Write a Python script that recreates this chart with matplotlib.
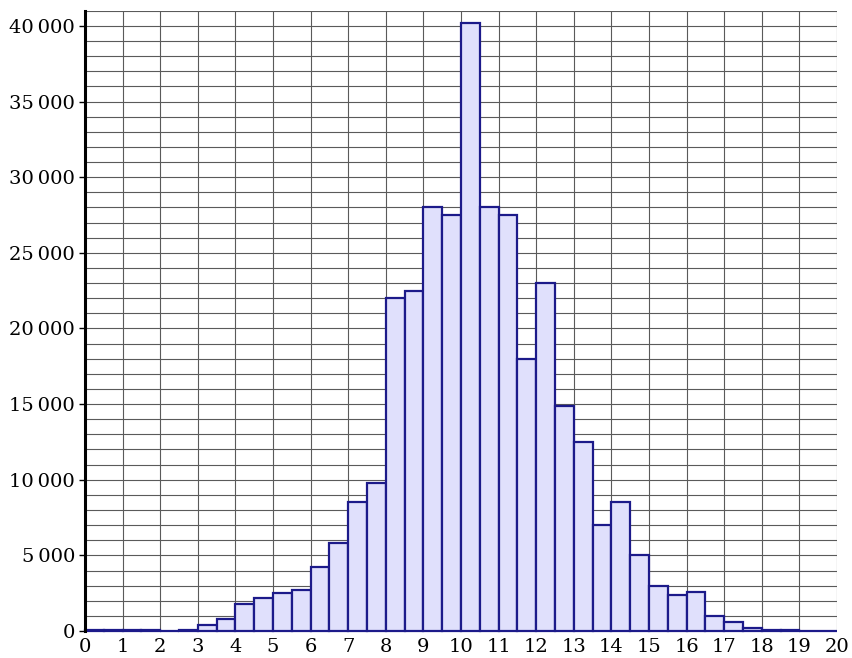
import numpy as np
import matplotlib.pyplot as plt
from matplotlib.ticker import FuncFormatter, MultipleLocator

# bin edges (width 0.5) and counts
bin_left = [i * 0.5 for i in range(40)]
counts = [50, 50, 100, 50, 20, 50, 400, 800, 1800, 2200,
          2500, 2700, 4200, 5800, 8500, 9800, 22000, 22500, 28000, 27500,
          40200, 28000, 27500, 18000, 23000, 14900, 12500, 7000, 8500, 5000,
          3000, 2400, 2600, 1000, 600, 200, 100, 50, 20, 20]
x_ticks = list(range(0, 21))
y_ticks = [0, 5000, 10000, 15000, 20000, 25000, 30000, 35000, 40000]

plt.rcParams['font.family'] = ['DejaVu Serif']

fig = plt.figure(figsize=(8.53, 6.58), dpi=100)
ax = fig.add_axes([0.0996, 0.041, 0.8816, 0.9427])

bars = ax.bar(bin_left, counts, width=0.5, align='edge', color='#e0e0fc',
              edgecolor='#1c1a8a', linewidth=1.6, zorder=3)
for b in bars:
    b.set_clip_on(False)

ax.set_xlim(0, 20)
ax.set_ylim(0, 41000)
ax.set_xticks(x_ticks)
ax.set_yticks(y_ticks)
ax.xaxis.set_minor_locator(MultipleLocator(1))
ax.yaxis.set_minor_locator(MultipleLocator(1000))

def thousands(v, pos):
    return f"{int(v):,}".replace(",", "\u2009")

ax.yaxis.set_major_formatter(FuncFormatter(thousands))

ax.grid(True, which='both', color='#5a5a5a', linewidth=0.8, zorder=0)
ax.set_axisbelow(True)

for s in ['top', 'right', 'bottom']:
    ax.spines[s].set_visible(False)
ax.spines['left'].set_linewidth(2.2)
ax.spines['left'].set_color('black')
ax.spines['left'].set_zorder(4)

ax.tick_params(axis='x', length=0, pad=5, labelsize=14)
ax.tick_params(axis='y', which='major', length=4, width=1, pad=3, labelsize=14)
ax.tick_params(axis='y', which='minor', length=0)

fig.savefig('out.png', dpi=100)
